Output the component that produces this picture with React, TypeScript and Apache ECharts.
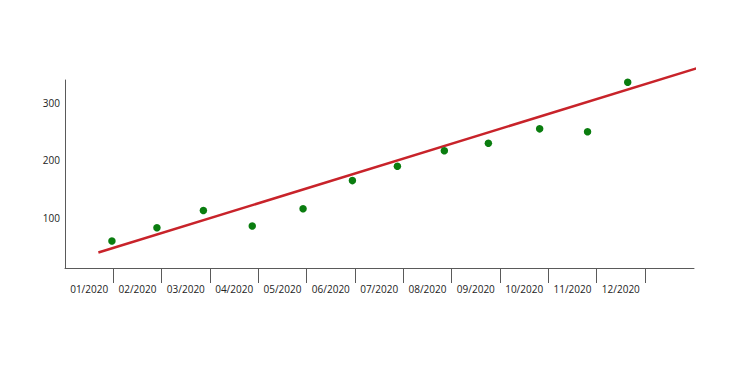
import React, { useEffect, useRef } from "react";
import * as echarts from "echarts";

const months = ["01/2020", "02/2020", "03/2020", "04/2020", "05/2020", "06/2020", "07/2020", "08/2020", "09/2020", "10/2020", "11/2020", "12/2020"];
const pointX = [0.97, 1.9, 2.86, 3.87, 4.92, 5.94, 6.87, 7.84, 8.75, 9.81, 10.8, 11.63];
const pointY = [60, 83, 113, 86, 116, 165, 190, 217, 230, 255, 250, 336];
const trendX = [0.69, 13.08];
const trendY = [40, 361];
const yTicks = [100, 200, 300];

export default function App() {
  const ref = useRef<HTMLDivElement>(null);
  useEffect(() => {
    if (!ref.current) return;
    const chart = echarts.init(ref.current, null, { renderer: "svg" });
    const axisColor = "#5a5a5a";
    const font = "'Open Sans', sans-serif";
    chart.setOption({
      animation: false,
      backgroundColor: "#ffffff",
      grid: [
        { left: 65, right: 57, top: 80, bottom: 98 },
        { left: 65, right: 106, top: 80, bottom: 98 },
      ],
      xAxis: [
        {
          type: "value",
          gridIndex: 0,
          min: 0,
          max: 13,
          axisLine: { show: true, lineStyle: { color: axisColor, width: 1 } },
          axisTick: { show: false },
          axisLabel: { show: false },
          splitLine: { show: false },
        },
        {
          type: "category",
          gridIndex: 1,
          data: months,
          boundaryGap: true,
          axisLine: { show: false },
          axisTick: {
            show: true,
            length: 15,
            interval: (i: number) => i !== 0,
            lineStyle: { color: axisColor, width: 1 },
          },
          axisLabel: {
            show: true,
            interval: 0,
            margin: 16,
            color: "#222222",
            fontSize: 10,
            fontFamily: font,
          },
          splitLine: { show: false },
        },
      ],
      yAxis: [
        {
          type: "value",
          gridIndex: 0,
          min: 13,
          max: 340,
          axisLine: { show: true, lineStyle: { color: axisColor, width: 1 } },
          axisTick: { show: false },
          splitLine: { show: false },
          axisLabel: {
            show: true,
            customValues: yTicks,
            margin: 5,
            color: "#222222",
            fontSize: 10,
            fontFamily: font,
          },
        },
        { type: "value", gridIndex: 1, show: false, min: 0, max: 1 },
      ],
      series: [
        {
          type: "line",
          xAxisIndex: 0,
          yAxisIndex: 0,
          data: trendX.map((x, i) => [x, trendY[i]]),
          symbol: "none",
          clip: false,
          lineStyle: { color: "#c8232a", width: 2.5 },
          z: 2,
        },
        {
          type: "scatter",
          xAxisIndex: 0,
          yAxisIndex: 0,
          data: pointX.map((x, i) => [x, pointY[i]]),
          symbolSize: 7.5,
          itemStyle: { color: "#0a7d0f", opacity: 1 },
          z: 3,
        },
      ],
    });
    return () => chart.dispose();
  }, []);
  return (
    <div
      ref={ref}
      style={{ position: "absolute", left: 0, top: 0, width: 751, height: 366, background: "#fff" }}
    />
  );
}
